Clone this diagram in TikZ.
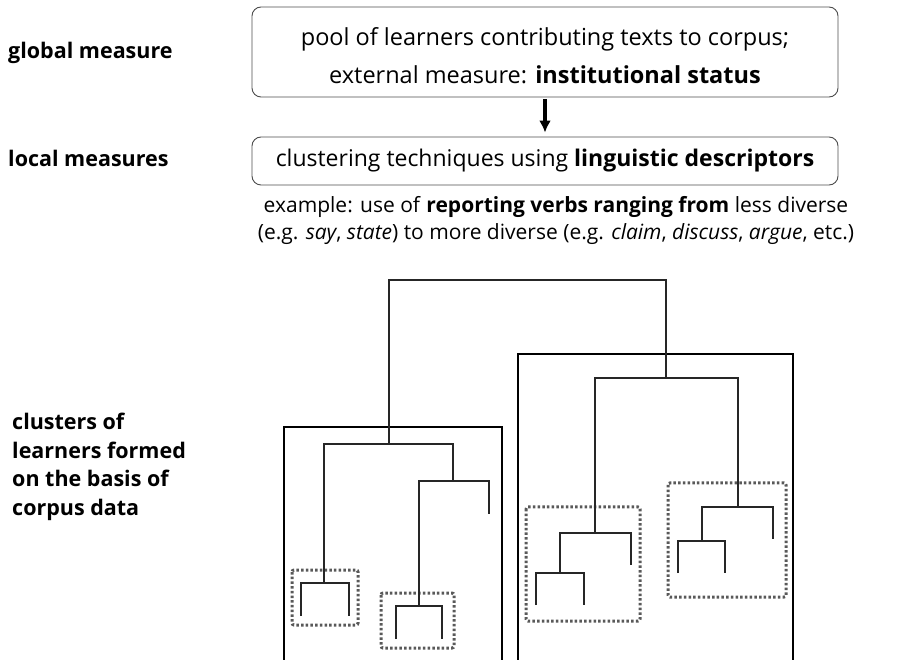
\documentclass[tikz,border=0pt]{standalone}
\usepackage{fontspec}
\setmainfont{Open Sans}
\usetikzlibrary{arrows.meta, positioning}

\begin{document}
\begin{tikzpicture}[x=1pt, y=-1pt, >=Latex]
    \tikzstyle{topbox} = [rectangle, draw=black!70, rounded corners=9pt, line width=0.9pt, text centered, align=center, minimum width=586pt, inner sep=0pt]
    \tikzstyle{sidelabel} = [anchor=west, align=left, inner sep=0pt, font=\fontsize{21.5}{28.5}\selectfont\bfseries]
    \tikzstyle{link} = [draw=black!85, line width=1.3pt]
    \tikzstyle{clusterbox} = [draw=black, line width=2.2pt]
    \tikzstyle{subcluster} = [draw=black!65, line width=3pt, dash pattern=on 2.5pt off 2.2pt, rounded corners=2pt]

    \useasboundingbox (0,0) rectangle (898,660);

    % measures
    \node [topbox, minimum height=90pt, font=\fontsize{23.5}{38}\selectfont] (pool) at (545,52)
        {\rule{0pt}{25pt}pool of learners contributing texts to corpus;\\external measure: \textbf{institutional status}};
    \node [topbox, minimum height=48pt, font=\fontsize{23}{26}\selectfont] (clustering) at (545,161)
        {clustering techniques using \textbf{linguistic descriptors}};
    \node [align=center, inner sep=0pt, font=\fontsize{21}{27}\selectfont] (example) at (556,220)
        {example: use of \textbf{reporting verbs ranging from} less diverse\\(e.g. \textit{say}, \textit{state}) to more diverse (e.g. \textit{claim}, \textit{discuss}, \textit{argue}, etc.)};
    \draw [-{Latex[length=12pt, width=12pt]}, line width=4pt, shorten <=2pt, shorten >=4pt] (pool) -- (clustering);

    \node [sidelabel] (global) at (8,53) {global measure};
    \node [sidelabel] (local) at (8,158) {local measures};
    \node [sidelabel] (clusters) at (12,467) {clusters of\\learners formed\\on the basis of\\corpus data};

    % cluster boxes (cut off at the bottom)
    \draw [clusterbox] (284,660) |- (502,427) -- (502,660);
    \draw [clusterbox] (518,660) |- (793,354) -- (793,660);
    \draw [subcluster] (292,570) rectangle (358,625);
    \draw [subcluster] (381,593) rectangle (454,648);
    \draw [subcluster] (526,507) rectangle (640,621);
    \draw [subcluster] (668,483) rectangle (786,597);

    % dendrogram merge points and leaves
    \coordinate (root) at (527.5,280);
    \coordinate (l) at (389,444);
    \coordinate (la) at (324,583);
    \coordinate (la1) at (301,616);
    \coordinate (la2) at (349,616);
    \coordinate (lb) at (453,481);
    \coordinate (lb2) at (489,514);
    \coordinate (lba) at (419,606);
    \coordinate (lba1) at (396,639);
    \coordinate (lba2) at (442,639);
    \coordinate (r) at (666,378);
    \coordinate (ra) at (595,533);
    \coordinate (ra2) at (631,565);
    \coordinate (raa) at (560,573);
    \coordinate (raa1) at (536,605);
    \coordinate (raa2) at (584,605);
    \coordinate (rb) at (738,507);
    \coordinate (rb2) at (773,539);
    \coordinate (rba) at (702,541);
    \coordinate (rba1) at (678,573);
    \coordinate (rba2) at (725,573);

    \draw [link] (l) |- (root) -| (r);
    \draw [link] (la) |- (l) -| (lb);
    \draw [link] (la1) |- (la) -| (la2);
    \draw [link] (lba) |- (lb) -| (lb2);
    \draw [link] (lba1) |- (lba) -| (lba2);
    \draw [link] (ra) |- (r) -| (rb);
    \draw [link] (raa) |- (ra) -| (ra2);
    \draw [link] (raa1) |- (raa) -| (raa2);
    \draw [link] (rba) |- (rb) -| (rb2);
    \draw [link] (rba1) |- (rba) -| (rba2);
\end{tikzpicture}
\end{document}
